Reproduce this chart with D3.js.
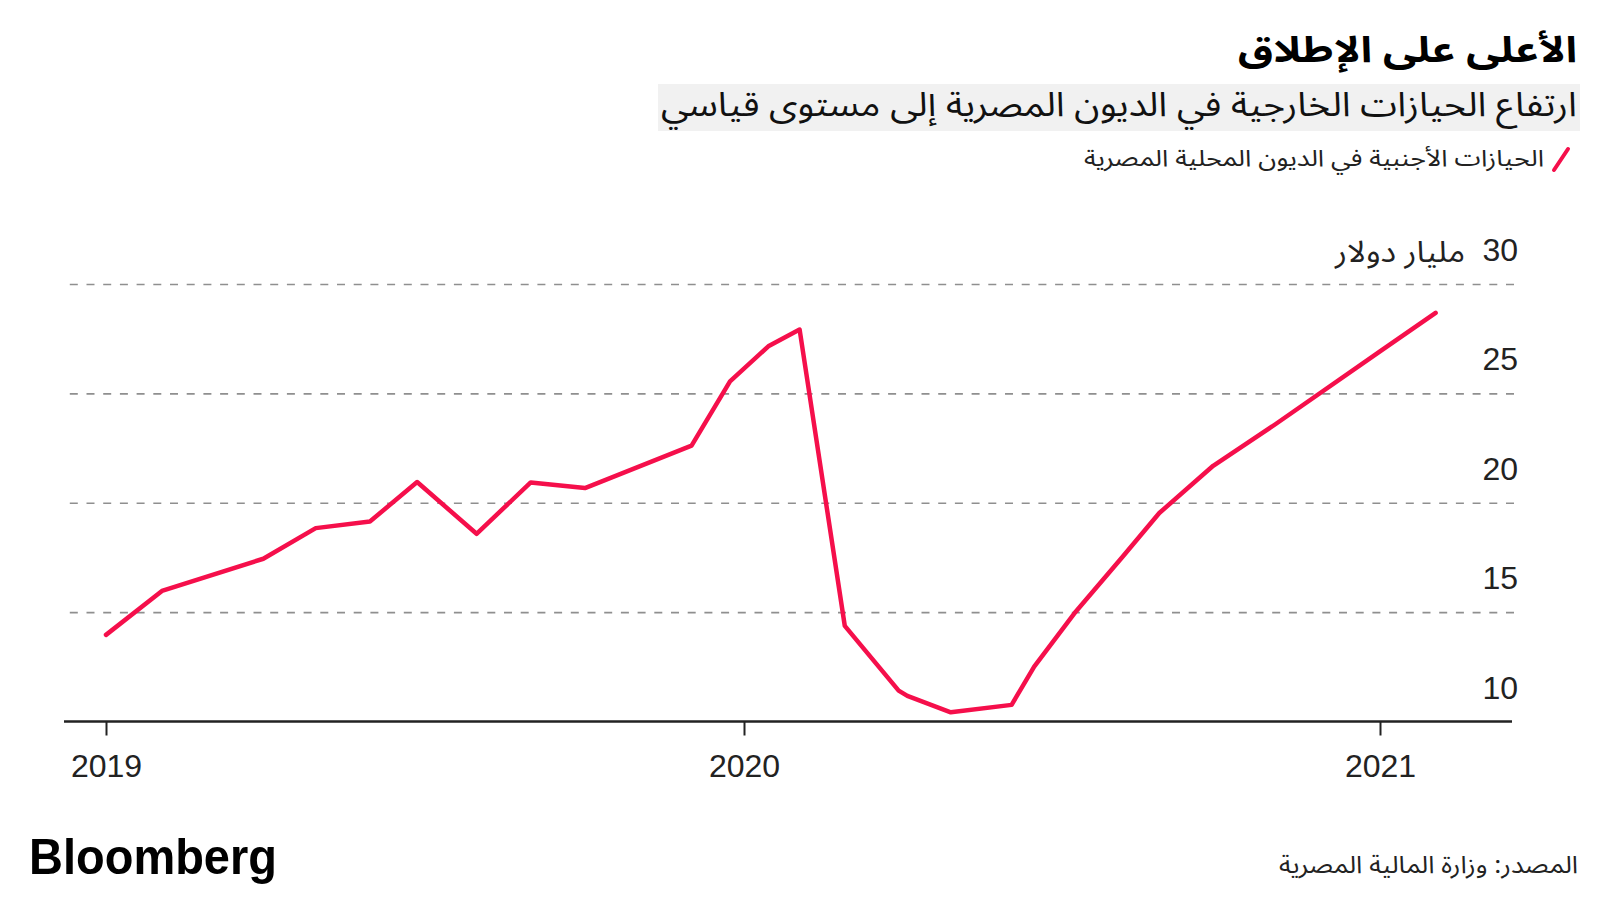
<!DOCTYPE html>
<html>
<head>
<meta charset="utf-8">
<script src="https://cdn.jsdelivr.net/npm/d3@7"></script>
<style>
  body { margin: 0; background: #fff; }
  .ar { font-family: "Noto Sans Arabic", "DejaVu Sans", sans-serif; }
  .num { font-family: "Liberation Sans", Arial, sans-serif; }
</style>
</head>
<body>
<div id="chart"></div>
<script>
// foreign holdings of Egyptian local debt, bn $
var dates = ["2019-01-01", "2019-02-02", "2019-04-01", "2019-05-01", "2019-06-01", "2019-06-28",
  "2019-08-01", "2019-09-01", "2019-10-02", "2019-12-02", "2019-12-24", "2020-01-15",
  "2020-02-02", "2020-02-28", "2020-03-30", "2020-04-04", "2020-04-29", "2020-06-03",
  "2020-06-16", "2020-07-10", "2020-08-06", "2020-08-27", "2020-09-27", "2020-11-02",
  "2021-01-01", "2021-02-02"];
var holdings = [13.96, 15.97, 17.44, 18.84, 19.14, 20.95, 18.58, 20.93, 20.67, 22.61, 25.55, 27.15,
  27.92, 14.37, 11.41, 11.17, 10.42, 10.76, 12.51, 15.03, 17.54, 19.53, 21.69, 23.60,
  26.92, 28.68];
var yearTicks = ["2019-01-01", "2020-01-01", "2021-01-01"];
var yTicks = [10, 15, 20, 25, 30];

var title = "الأعلى على الإطلاق";
var subtitle = "ارتفاع الحيازات الخارجية في الديون المصرية إلى مستوى قياسي";
var legendLabel = "الحيازات الأجنبية في الديون المحلية المصرية";
var unitLabel = "مليار دولار";
var source = "المصدر: وزارة المالية المصرية";

var width = 1600, height = 900;
var plot = {left: 64, right: 1514, top: 284, bottom: 721.5};

var parse = d3.timeParse("%Y-%m-%d");
var data = dates.map(function(d, i) { return {date: parse(d), value: holdings[i]}; });

var x = d3.scaleTime()
  .domain(yearTicks.map(parse))
  .range([106, 744, 1380]);
var y = d3.scaleLinear().domain([10, 30]).range([plot.bottom, plot.top]);

var svg = d3.select("#chart").append("svg")
  .attr("width", width)
  .attr("height", height)
  .style("display", "block");

svg.append("rect").attr("width", width).attr("height", height).attr("fill", "#fff");

// header
svg.append("text").attr("class", "ar")
  .attr("x", 1577).attr("y", 62)
  .attr("text-anchor", "end")
  .attr("font-size", 36).attr("font-weight", "bold").attr("fill", "#000")
  .attr("textLength", 339).attr("lengthAdjust", "spacingAndGlyphs")
  .text(title);

svg.append("rect")
  .attr("x", 658).attr("y", 84).attr("width", 922).attr("height", 47)
  .attr("fill", "#f1f1f1");

svg.append("text").attr("class", "ar")
  .attr("x", 1577).attr("y", 116)
  .attr("text-anchor", "end")
  .attr("font-size", 34).attr("fill", "#111")
  .attr("textLength", 916).attr("lengthAdjust", "spacingAndGlyphs")
  .text(subtitle);

// legend
svg.append("line")
  .attr("x1", 1554).attr("y1", 170).attr("x2", 1568).attr("y2", 149)
  .attr("stroke", "#f50f4b").attr("stroke-width", 4).attr("stroke-linecap", "round");

svg.append("text").attr("class", "ar")
  .attr("x", 1544).attr("y", 166)
  .attr("text-anchor", "end")
  .attr("font-size", 23).attr("fill", "#222")
  .attr("textLength", 460).attr("lengthAdjust", "spacingAndGlyphs")
  .text(legendLabel);

// gridlines
var grid = svg.append("g")
  .attr("transform", "translate(" + plot.right + ",0)")
  .call(d3.axisLeft(y).tickValues(yTicks.slice(1)).tickSize(plot.right - 69).tickFormat(""));
grid.select(".domain").remove();
grid.selectAll("line")
  .attr("stroke", "#8f8f8f")
  .attr("stroke-width", 1.6)
  .attr("stroke-dasharray", "8,8.7");

// y labels sit above their gridline
svg.append("g").selectAll("text")
  .data(yTicks)
  .enter().append("text")
  .attr("class", "num")
  .attr("x", 1518)
  .attr("y", function(d) { return y(d) - 23; })
  .attr("text-anchor", "end")
  .attr("font-size", 32)
  .attr("fill", "#222")
  .text(function(d) { return d; });

svg.append("text").attr("class", "ar")
  .attr("x", 1465).attr("y", 262)
  .attr("text-anchor", "end")
  .attr("font-size", 30).attr("fill", "#222")
  .attr("textLength", 130).attr("lengthAdjust", "spacingAndGlyphs")
  .text(unitLabel);

// x axis
var xAxis = svg.append("g")
  .attr("transform", "translate(0," + plot.bottom + ")")
  .call(d3.axisBottom(x)
    .tickValues(yearTicks.map(parse))
    .tickSize(14)
    .tickSizeOuter(0)
    .tickFormat(d3.timeFormat("%Y")));
xAxis.select(".domain")
  .attr("d", "M" + plot.left + ",0H1512")
  .attr("stroke", "#222").attr("stroke-width", 2.6);
xAxis.selectAll(".tick line").attr("stroke", "#222").attr("stroke-width", 2);
xAxis.selectAll(".tick text")
  .attr("class", "num")
  .attr("font-size", 32)
  .attr("fill", "#222")
  .attr("y", 33)
  .attr("dy", "0.71em");

// line
var line = d3.line()
  .x(function(d) { return x(d.date); })
  .y(function(d) { return y(d.value); });

svg.append("path")
  .datum(data)
  .attr("fill", "none")
  .attr("stroke", "#f50f4b")
  .attr("stroke-width", 4.5)
  .attr("stroke-linejoin", "round")
  .attr("stroke-linecap", "round")
  .attr("d", line);

// footer
svg.append("text")
  .attr("x", 29).attr("y", 874)
  .attr("font-family", "Liberation Sans, Arial, sans-serif")
  .attr("font-weight", "bold").attr("font-size", 50).attr("fill", "#000")
  .attr("textLength", 248).attr("lengthAdjust", "spacingAndGlyphs")
  .text("Bloomberg");

svg.append("text").attr("class", "ar")
  .attr("x", 1578).attr("y", 873)
  .attr("text-anchor", "end")
  .attr("font-size", 24).attr("fill", "#222")
  .attr("textLength", 299).attr("lengthAdjust", "spacingAndGlyphs")
  .text(source);
</script>
</body>
</html>
